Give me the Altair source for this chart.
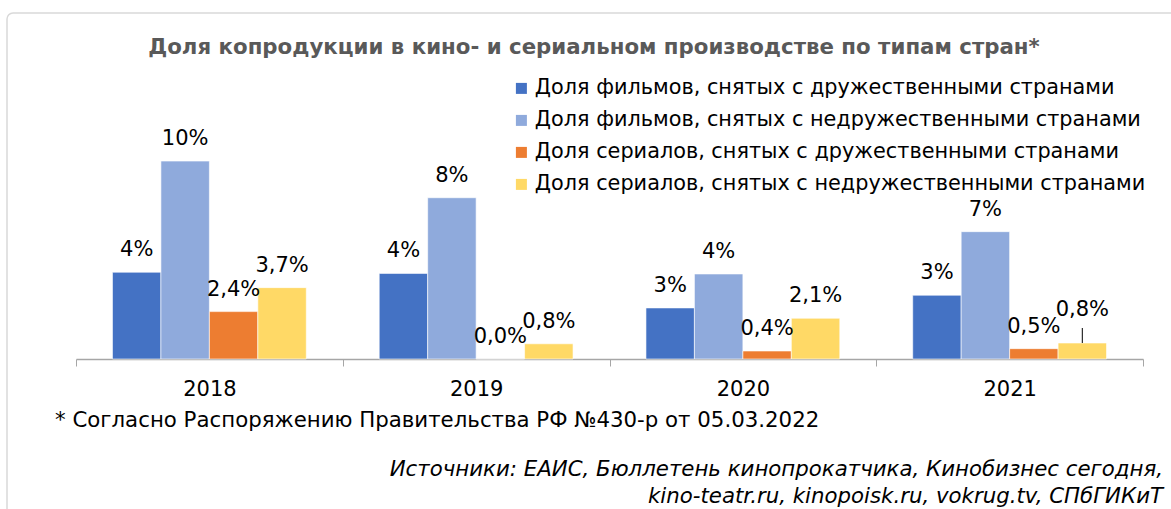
import altair as alt
import pandas as pd

years = ["2018", "2019", "2020", "2021"]
series = [
    "Доля фильмов, снятых с дружественными странами",
    "Доля фильмов, снятых с недружественными странами",
    "Доля сериалов, снятых с дружественными странами",
    "Доля сериалов, снятых с недружественными странами",
]
films_friendly = [4.45, 4.39, 2.62, 3.27]
films_unfriendly = [10.15, 8.27, 4.36, 6.53]
series_friendly = [2.43, 0.0, 0.41, 0.53]
series_unfriendly = [3.66, 0.78, 2.09, 0.82]
colors = ["#4472C4", "#8FAADC", "#ED7D31", "#FFD966"]

title_text = "Доля копродукции в кино- и сериальном производстве по типам стран*"
footnote_text = "* Согласно Распоряжению Правительства РФ №430-р от 05.03.2022"
source_lines = [
    "Источники: ЕАИС, Бюллетень кинопрокатчика, Кинобизнес сегодня,\u00a0",
    "kino-teatr.ru, kinopoisk.ru, vokrug.tv, СПбГИКиТ",
]

rows = []
for s_i, (name, vals) in enumerate(zip(series, [films_friendly, films_unfriendly, series_friendly, series_unfriendly])):
    for yr, v in zip(years, vals):
        if s_i < 2:
            label = f"{round(v)}%"
        else:
            label = f"{v:.1f}".replace(".", ",") + "%"
        rows.append({"year": yr, "series": name, "order": s_i, "value": v, "label": label})
df = pd.DataFrame(rows)

FONT = "DejaVu Sans"

xenc = alt.X(
    "year:N",
    sort=years,
    scale=alt.Scale(paddingInner=0, paddingOuter=0),
    axis=alt.Axis(
        title=None, labelAngle=0, tickBand="extent", domainColor="#A6A6A6",
        tickColor="#A6A6A6", tickSize=7, labelFontSize=21, labelColor="#000000",
        labelFont=FONT, labelPadding=12, grid=False, domainWidth=1.3,
    ),
)
xoff = alt.XOffset("series:N", sort=series,
                   scale=alt.Scale(domain=series, paddingInner=0, paddingOuter=0.7526))
yenc = alt.Y("value:Q", scale=alt.Scale(domain=[0, 18.41], nice=False, zero=True), axis=None)
colenc = alt.Color(
    "series:N",
    scale=alt.Scale(domain=series, range=colors),
    legend=alt.Legend(
        title=None, orient="none", legendX=435, legendY=78, symbolType="square",
        symbolSize=121, labelFontSize=20.8, labelFont=FONT, labelColor="#000000",
        rowPadding=10, labelOffset=3, padding=0, labelLimit=0, symbolStrokeWidth=0,
    ),
)

base = alt.Chart(df)
bars = base.mark_bar(stroke="white", strokeWidth=0.6).encode(x=xenc, xOffset=xoff, y=yenc, color=colenc)

cond_lift = "datum.year == '2021' && datum.order == 3"
labels = base.transform_filter("!(" + cond_lift + ")").mark_text(
    dy=-16, baseline="alphabetic", fontSize=21, font=FONT, color="#000000"
).encode(x=xenc, xOffset=xoff, y=yenc, text="label:N")
lifted = base.transform_filter(cond_lift).mark_text(
    dy=-27, baseline="alphabetic", fontSize=21, font=FONT, color="#000000"
).encode(x=xenc, xOffset=xoff, y=yenc, text="label:N")
leader = base.transform_filter(cond_lift).mark_rule(color="#000000", strokeWidth=1, y2Offset=-15).encode(
    x=xenc, xOffset=xoff, y=yenc, y2=alt.Y2("value:Q")
)

one = pd.DataFrame({"t": [title_text]})
border = alt.Chart(one).mark_rect(
    fillOpacity=0, stroke="#D9D9D9", strokeWidth=1.5, cornerRadius=6
).encode(x=alt.value(-69), x2=alt.value(1110), y=alt.value(13), y2=alt.value(530))
title = alt.Chart(one).mark_text(
    fontSize=21.3, font=FONT, fontWeight="bold", color="#595959", align="center", baseline="alphabetic"
).encode(x=alt.value(518), y=alt.value(54), text="t:N")
foot = alt.Chart(pd.DataFrame({"t": [footnote_text]})).mark_text(
    fontSize=21.3, font=FONT, color="#000000", align="left", baseline="alphabetic"
).encode(x=alt.value(-21), y=alt.value(427), text="t:N")
src = alt.Chart(pd.DataFrame({"t": ["\n".join(source_lines)]})).mark_text(
    fontSize=21.3, font=FONT, fontStyle="italic", color="#000000", align="right",
    baseline="alphabetic", lineBreak="\n", lineHeight=27,
).encode(x=alt.value(1087), y=alt.value(476), text="t:N")

chart = alt.layer(border, bars, labels, lifted, leader, title, foot, src).properties(
    width=1067, height=359,
    padding={"left": 76, "top": 0, "right": 28, "bottom": 150},
    autosize=alt.AutoSizeParams(type="none"),
    background="white",
).configure_view(stroke=None)

chart.save("out.html", embed_options={"renderer": "svg", "actions": False})
